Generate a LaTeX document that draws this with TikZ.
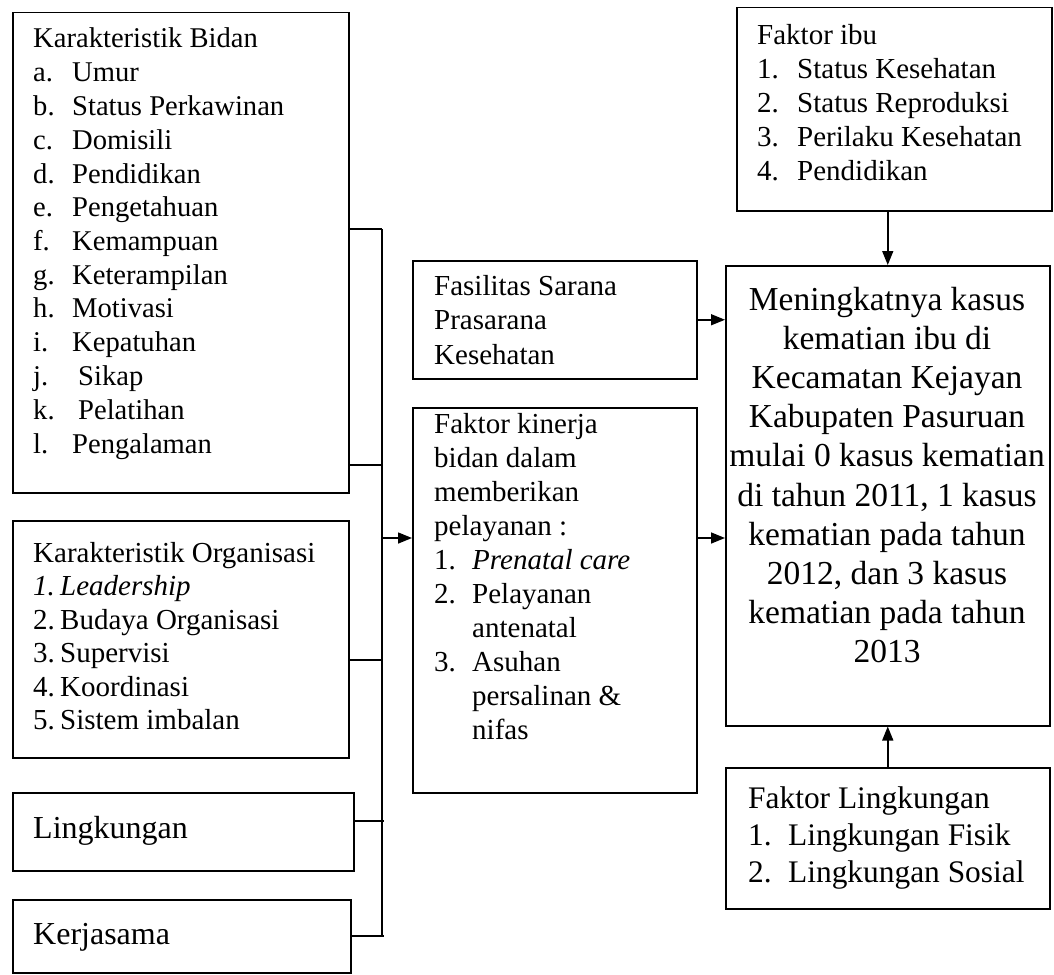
\documentclass[tikz,border=0pt]{standalone}
\usepackage{fontspec}
\setmainfont{Liberation Serif}
\usetikzlibrary{arrows.meta}
\newcommand\mylab[2]{\makebox[#1][l]{#2}}
\begin{document}
\begin{tikzpicture}[x=1pt,y=-1pt,
  box/.style={draw, line width=1.5pt, inner sep=0pt, anchor=north west},
  conn/.style={line width=1.5pt},
  arr/.style={line width=1.5pt, -{Triangle[length=14pt,width=11pt]}},
  txt/.style={inner sep=0pt, anchor=base west, align=left},
  fs/.style={font=\fontsize{29}{34}\selectfont}]
\useasboundingbox (0,0) rectangle (1054,974);
% boxes
\node[box, minimum width=336pt, minimum height=480pt] (bidan) at (12,12) {};
\node[box, minimum width=336pt, minimum height=237pt] (org) at (12,520) {};
\node[box, minimum width=341pt, minimum height=78pt] (ling) at (12,792) {};
\node[box, minimum width=338pt, minimum height=73pt] (kerja) at (12,899) {};
\node[box, minimum width=284pt, minimum height=118pt] (fas) at (412,260) {};
\node[box, minimum width=284pt, minimum height=385pt] (kin) at (412,407) {};
\node[box, minimum width=315pt, minimum height=203pt] (ibu) at (736,7) {};
\node[box, minimum width=324pt, minimum height=460pt] (main) at (725,265) {};
\node[box, minimum width=324pt, minimum height=141pt] (lingF) at (725,767) {};
% texts
\node[txt, font=\fontsize{28.6}{33.75}\selectfont] (bidanT) at (33,48) {\begin{tabular}[t]{@{}l@{}}
Karakteristik Bidan\\
\mylab{39pt}{a.}Umur\\
\mylab{39pt}{b.}Status Perkawinan\\
\mylab{39pt}{c.}Domisili\\
\mylab{39pt}{d.}Pendidikan\\
\mylab{39pt}{e.}Pengetahuan\\
\mylab{39pt}{f.}Kemampuan\\
\mylab{39pt}{g.}Keterampilan\\
\mylab{39pt}{h.}Motivasi\\
\mylab{39pt}{i.}Kepatuhan\\
\mylab{45pt}{j.}Sikap\\
\mylab{45pt}{k.}Pelatihan\\
\mylab{39pt}{l.}Pengalaman
\end{tabular}};
\node[txt, font=\fontsize{29}{33.5}\selectfont] (orgT) at (33,562) {\begin{tabular}[t]{@{}l@{}}
Karakteristik Organisasi\\
\textit{\mylab{27pt}{1.}Leadership}\\
\mylab{27pt}{2.}Budaya Organisasi\\
\mylab{27pt}{3.}Supervisi\\
\mylab{27pt}{4.}Koordinasi\\
\mylab{27pt}{5.}Sistem imbalan
\end{tabular}};
\node[txt, font=\fontsize{32}{37}\selectfont] (lingT) at (33,838) {Lingkungan};
\node[txt, font=\fontsize{32}{37}\selectfont] (kerjaT) at (33,944) {Kerjasama};
\node[txt, font=\fontsize{29}{34.5}\selectfont] (fasT) at (434,295) {\begin{tabular}[t]{@{}l@{}}
Fasilitas Sarana\\
Prasarana\\
Kesehatan
\end{tabular}};
\node[txt, fs] (kinT) at (434,433) {\begin{tabular}[t]{@{}l@{}}
Faktor kinerja\\
bidan dalam\\
memberikan\\
pelayanan :\\
\mylab{38pt}{1.}\textit{Prenatal care}\\
\mylab{38pt}{2.}Pelayanan\\
\hspace*{38pt}antenatal\\
\mylab{38pt}{3.}Asuhan\\
\hspace*{38pt}persalinan \&\\
\hspace*{38pt}nifas
\end{tabular}};
\node[txt, fs] (ibuT) at (757,45) {\begin{tabular}[t]{@{}l@{}}
Faktor ibu\\
\mylab{40pt}{1.}Status Kesehatan\\
\mylab{40pt}{2.}Status Reproduksi\\
\mylab{40pt}{3.}Perilaku Kesehatan\\
\mylab{40pt}{4.}Pendidikan
\end{tabular}};
\node[inner sep=0pt, anchor=base, font=\fontsize{33.5}{39.2}\selectfont] (mainT) at (887,310) {\begin{tabular}[t]{@{}c@{}}
Meningkatnya kasus\\
kematian ibu di\\
Kecamatan Kejayan\\
Kabupaten Pasuruan\\
mulai 0 kasus kematian\\
di tahun 2011, 1 kasus\\
kematian pada tahun\\
2012, dan 3 kasus\\
kematian pada tahun\\
2013
\end{tabular}};
\node[txt, font=\fontsize{31.4}{37}\selectfont] (lingFT) at (748,808) {\begin{tabular}[t]{@{}l@{}}
Faktor Lingkungan\\
\mylab{40pt}{1.}Lingkungan Fisik\\
\mylab{40pt}{2.}Lingkungan Sosial
\end{tabular}};
% bracket connectors
\coordinate (sTop) at (382,229);
\coordinate (sB2) at (382,465);
\coordinate (sJ) at (382,538);
\coordinate (sO) at (382,660);
\coordinate (sL) at (384,821);
\coordinate (sK) at (384,936);
\draw[conn] (sTop) -- (382,936);
\draw[conn] (bidan.east |- sTop) -- (sTop);
\draw[conn] (bidan.east |- sB2) -- (sB2);
\draw[conn] (org.east |- sO) -- (sO);
\draw[conn] (ling.east |- sL) -- (sL);
\draw[conn] (kerja.east |- sK) -- (sK);
\draw[arr] (sJ) -- (kin.west |- sJ);
% arrows to main
\draw[arr] (fas.east) -- (main.west |- fas.east);
\draw[arr] (kin.east |- sJ) -- (main.west |- sJ);
\draw[arr] (main.north |- ibu.south) -- (main.north);
\draw[arr] (main.south |- lingF.north) -- (main.south);
\end{tikzpicture}
\end{document}
